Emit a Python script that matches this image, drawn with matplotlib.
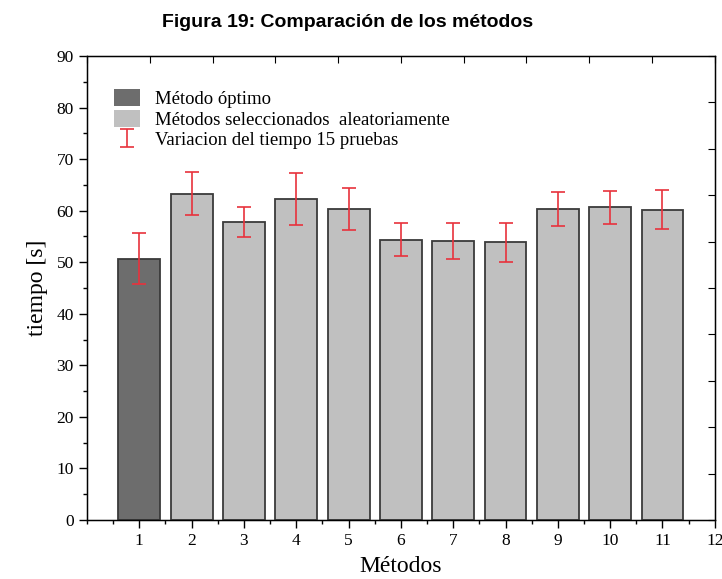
import matplotlib.pyplot as plt
from matplotlib.patches import Patch
from matplotlib.ticker import MultipleLocator

# datos
metodos = [1, 2, 3, 4, 5, 6, 7, 8, 9, 10, 11]
tiempo = [50.7, 63.3, 57.8, 62.3, 60.3, 54.4, 54.2, 53.9, 60.3, 60.7, 60.2]
error = [5.0, 4.2, 3.0, 5.0, 4.0, 3.2, 3.5, 3.8, 3.3, 3.2, 3.8]
colores = ['#6d6d6d'] + ['#c0c0c0'] * 10

serif = ['Liberation Serif', 'DejaVu Serif']

fig = plt.figure(figsize=(7.22, 5.79), dpi=100)
ax = fig.add_axes([0.1205, 0.1019, 0.8695, 0.8014])

ax.bar(metodos, tiempo, width=0.8, color=colores, edgecolor='#3a3a3a', linewidth=1.3, zorder=2)
eb = ax.errorbar(metodos, tiempo, yerr=error, fmt='none', ecolor='#e8323c',
                 elinewidth=1.2, capsize=5, capthick=1.2, zorder=3)

ax.set_xlim(0, 12)
ax.set_ylim(0, 90)
ax.xaxis.set_major_locator(MultipleLocator(1))
ax.xaxis.set_minor_locator(MultipleLocator(0.5))
ax.yaxis.set_major_locator(MultipleLocator(10))
ax.yaxis.set_minor_locator(MultipleLocator(5))
ax.set_xticks(range(1, 13))
ax.tick_params(which='major', direction='out', length=6, width=1, labelsize=12.5)
ax.tick_params(which='minor', direction='out', length=3, width=1)
for lab in ax.get_xticklabels() + ax.get_yticklabels():
    lab.set_family(serif)
for s in ax.spines.values():
    s.set_linewidth(1.0)
    s.set_color('#333333')

# ejes secundarios (arriba y derecha) con otra escala, sin etiquetas
axt = ax.twiny()
axt.set_xlim(0, 10)
axt.xaxis.set_major_locator(MultipleLocator(1))
axt.tick_params(axis='x', direction='in', length=5, labeltop=False)
axr = ax.twinx()
axr.set_ylim(0, 100)
axr.yaxis.set_major_locator(MultipleLocator(10))
axr.tick_params(axis='y', direction='in', length=5, labelright=False)

ax.set_xlabel('Métodos', family=serif, fontsize=17, labelpad=5)
ax.set_ylabel('tiempo [s]', family=serif, fontsize=17, labelpad=6)

handles = [Patch(facecolor='#6d6d6d', edgecolor='none'),
           Patch(facecolor='#c0c0c0', edgecolor='none'),
           eb]
labels = ['Método óptimo', 'Métodos seleccionados  aleatoriamente',
          'Variacion del tiempo 15 pruebas']
ax.legend(handles, labels, loc='upper left', bbox_to_anchor=(0.016, 0.965), frameon=False,
          prop={'family': serif, 'size': 13.5}, handlelength=1.4, handleheight=1.0,
          handletextpad=0.8, labelspacing=0.1)

fig.text(0.482, 0.962, 'Figura 19: Comparación de los métodos', ha='center', va='center',
         fontsize=14, fontweight='bold', family=['Liberation Sans', 'DejaVu Sans'])

fig.savefig('out.png', dpi=100)
